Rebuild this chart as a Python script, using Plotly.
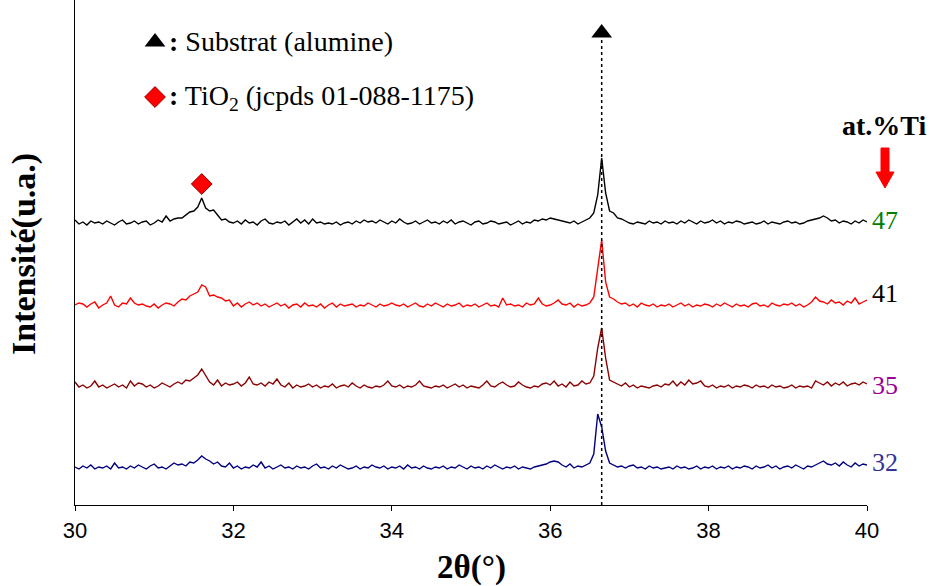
import numpy as np
import plotly.graph_objects as go

# 2-theta grid (degrees), step 0.05
two_theta_start = 30.0
two_theta_step = 0.05

# Intensities (a.u.) above each pattern's own baseline
i_47 = [3, -1, 1, -2, 2, 0, 1, -1, 2, 0,
        -2, 1, 3, -1, 0, 2, -1, 1, 2, -2,
        0, 3, 1, 7, 2, 4, 5, 5, 8, 11,
        12, 16, 25, 15, 12, 13, 8, 3, 4, 1,
        0, 2, -1, 3, 0, 1, -2, 2, 4, 0,
        -1, 1, 0, 2, -2, 1, 4, 0, 3, -1,
        4, 0, 1, -1, 0, -1, 1, -2, 0, 1,
        -1, 2, 0, 3, 1, 2, 0, 3, 1, -1,
        2, 0, 4, 1, -1, 0, 2, -1, 1, 3,
        0, 1, -1, 2, 0, 3, -1, 1, 2, 0,
        -2, 1, 2, -1, 0, 2, 1, -1, 0, 1,
        -2, 0, 2, -1, 1, 0, 3, 2, 4, 3,
        5, 4, 3, 2, 1, 0, 2, -1, 1, 3,
        5, 10, 28, 65, 30, 12, 10, 5, 4, 2,
        0, -1, 1, 0, -1, 2, 0, 1, -1, 2,
        0, 1, -1, 2, 0, 3, 1, -1, 2, 0,
        1, 3, 0, 2, -1, 1, 0, 2, 1, -1,
        0, 1, -1, 0, 2, -1, 1, 0, -1, 1,
        2, 0, 1, -1, 0, 2, 3, 4, 5, 7,
        5, 2, 3, 0, 2, 1, -1, 2, 0, 3,
        1]

i_41 = [2, 4, 3, 0, 3, 5, -1, 2, 4, 11,
        2, 0, 4, 3, 9, 4, 2, 3, 1, 0,
        3, -1, 2, 4, 3, 1, 5, 8, 7, 11,
        13, 15, 22, 20, 11, 12, 10, 9, 6, 7,
        1, 4, 0, 3, 5, 2, 4, 1, 3, 0,
        2, 4, 1, 3, -1, 2, 3, 0, 4, 1,
        2, 0, 3, -1, 2, 4, 0, 3, 1, 2,
        3, 0, 2, 1, 4, 2, 0, 3, 1, 2,
        4, 2, 1, 3, 0, 2, 4, 1, 0, 3,
        1, 4, 2, 0, 3, 1, 2, 4, 0, 2,
        1, 3, 0, 2, 4, 1, 2, 0, 9, 2,
        3, 1, 2, 0, 4, 2, 3, 9, 3, 1,
        2, 4, 7, 3, 2, 4, 0, 3, 1, 2,
        4, 10, 40, 67, 25, 10, 8, 5, 3, 4,
        1, 3, 0, 4, 2, 1, 3, 0, 2, 1,
        3, 0, 2, 4, 1, 3, 0, 2, 1, 3,
        2, 0, 3, 1, 4, 2, 0, 3, 1, 2,
        0, 3, 4, 1, 2, 0, 4, 2, 1, 3,
        2, 4, 1, 3, 0, 2, 5, 10, 6, 5,
        3, 7, 4, 5, 2, 6, 4, 9, 3, 5,
        7]

i_35 = [6, 1, 3, 0, 2, 7, 1, 3, 0, 2,
        4, 1, 3, 0, 7, 2, 5, 4, 1, 3,
        0, 2, 5, 3, 1, 4, 6, 4, 8, 7,
        10, 13, 19, 12, 6, 3, 8, 2, 5, 3,
        4, 6, 2, 5, 11, 4, 3, 5, 2, 6,
        4, 9, 3, 1, 5, 0, 3, 1, 2, 4,
        1, 3, 0, 2, 1, 4, 0, 2, 3, 1,
        5, 2, 0, 3, 1, 0, 2, 1, 3, 7,
        2, 1, 3, 0, 2, 1, 3, 7, 2, 1,
        0, 2, 1, 3, 0, 2, 4, 1, 3, 0,
        2, 1, 0, 3, 7, 2, 1, 4, 6, 3,
        1, 2, 6, 3, 1, 0, 2, 1, 4, 5,
        3, 7, 2, 4, 1, 6, 2, 3, 7, 4,
        5, 12, 40, 60, 30, 8, 6, 4, 2, 5,
        1, 3, 0, 2, 1, 0, 2, 3, 1, 4,
        3, 7, 2, 6, 3, 8, 4, 5, 7, 2,
        1, 3, 0, 2, 1, 3, 0, 2, 1, 3,
        2, 0, 3, 1, 2, 0, 3, 1, 2, 0,
        1, 3, 0, 2, 1, 2, 0, 7, 5, 3,
        6, 2, 5, 3, 6, 2, 4, 5, 3, 6,
        4]

i_32 = [2, 0, 3, 1, 4, 0, 2, 1, 3, 0,
        6, 1, 2, 0, 3, 1, 4, 2, 0, 3,
        5, 1, 2, 0, 3, 6, 4, 5, 3, 7,
        6, 9, 13, 10, 8, 5, 7, 3, 2, 6,
        1, 3, 0, 2, 1, 4, 2, 7, 1, 3,
        0, 2, 4, 1, 2, 0, 3, 1, 2, 0,
        3, 5, 1, 2, 0, 3, 1, 4, 2, 0,
        1, 3, 0, 2, 1, 4, 2, 1, 3, 0,
        2, 1, 3, 0, 4, 1, 2, 0, 3, 1,
        0, 2, 1, 3, 0, 2, 1, 4, 2, 0,
        3, 1, 2, 0, 3, 1, 4, 2, 0, 2,
        1, 3, 0, 2, 1, 0, 2, 3, 4, 5,
        7, 8, 7, 4, 2, 5, 1, 3, 2, 4,
        6, 15, 55, 42, 18, 6, 4, 2, 3, 1,
        3, 4, 1, 2, 0, 3, 1, 2, 0, 1,
        2, 0, 3, 1, 2, 0, 1, 3, 0, 2,
        1, 3, 0, 2, 1, 3, 0, 2, 1, 3,
        2, 0, 3, 1, 2, 4, 1, 3, 0, 2,
        3, 1, 4, 2, 0, 3, 2, 4, 6, 8,
        5, 4, 6, 3, 7, 4, 2, 6, 3, 5,
        4]

series_labels = ["47", "41", "35", "32"]
series_data = [i_47, i_41, i_35, i_32]
series_offsets = [282, 198, 117, 36]
line_colors = ["#000000", "#FF0000", "#8B0000", "#000080"]
label_colors = ["#008000", "#000000", "#990099", "#333399"]

substrate_peak = 36.65
tio2_peak = 31.6
x_ticks = [30, 32, 34, 36, 38, 40]

W, H = 932, 586
ML, MR, MT, MB = 75, 65, 0, 81
PW, PH = W - ML - MR, H - MT - MB
Y_MAX = 505

def px(x):   # pixel x -> paper
    return (x - ML) / PW

def py(y):   # pixel y -> paper
    return (H - MB - y) / PH

def dx(x):   # pixel x -> data x
    return 30 + (x - ML) / PW * 10

def dy(y):   # pixel y -> data y
    return Y_MAX * (H - MB - y) / PH

FONT = "Liberation Serif, Times New Roman, serif"
SANS = "Liberation Sans, Arial, sans-serif"

fig = go.Figure()
for vals, off, col in zip(series_data, series_offsets, line_colors):
    n = len(vals)
    x = two_theta_start + two_theta_step * np.arange(n)
    fig.add_trace(go.Scatter(x=x, y=np.array(vals) + off, mode="lines",
                             line=dict(color=col, width=1.4), hoverinfo="skip"))

# dotted substrate line
fig.add_shape(type="line", x0=substrate_peak, x1=substrate_peak, y0=0, y1=dy(40),
              line=dict(color="black", width=1.5, dash="dot"))

# substrate marker at top of line
fig.add_trace(go.Scatter(x=[substrate_peak], y=[dy(33)], mode="markers",
                         marker=dict(symbol="triangle-up", size=18, color="black")))
# TiO2 marker above the 47 pattern bump
fig.add_trace(go.Scatter(x=[tio2_peak], y=[dy(184)], mode="markers",
                         marker=dict(symbol="diamond", size=16, color="#FF0000",
                                     line=dict(color="#990000", width=1))))
# key markers
fig.add_trace(go.Scatter(x=[dx(155)], y=[dy(42)], mode="markers",
                         marker=dict(symbol="triangle-up", size=18, color="black")))
fig.add_trace(go.Scatter(x=[dx(155)], y=[dy(97)], mode="markers",
                         marker=dict(symbol="diamond", size=16, color="#FF0000",
                                     line=dict(color="#990000", width=1))))

ann = []
ann.append(dict(x=px(167), y=py(42), xref="paper", yref="paper", xanchor="left", yanchor="middle",
                text="<b>:</b> Substrat (alumine)", showarrow=False,
                font=dict(family=FONT, size=28, color="black")))
ann.append(dict(x=px(167), y=py(98), xref="paper", yref="paper", xanchor="left", yanchor="middle",
                text="<b>:</b> TiO<sub>2</sub> (jcpds 01-088-1175)", showarrow=False,
                font=dict(family=FONT, size=28, color="black")))
ann.append(dict(x=px(884), y=py(125), xref="paper", yref="paper", xanchor="center", yanchor="middle",
                text="<b>at.%Ti</b>", showarrow=False,
                font=dict(family=FONT, size=28, color="black")))
label_py = [220, 293, 385, 462]
for lab, col, ly in zip(series_labels, label_colors, label_py):
    ann.append(dict(x=px(870), y=py(ly), xref="paper", yref="paper", xanchor="left", yanchor="middle",
                    text=lab, showarrow=False, font=dict(family=FONT, size=26, color=col)))
ann.append(dict(x=px(24), y=py(254), xref="paper", yref="paper", xanchor="center", yanchor="middle",
                text="<b>Intensité(u.a.)</b>", textangle=-90, showarrow=False,
                font=dict(family=FONT, size=34, color="black")))
ann.append(dict(x=px(471), y=py(567), xref="paper", yref="paper", xanchor="center", yanchor="middle",
                text="<b>2θ(°)</b>", showarrow=False,
                font=dict(family=FONT, size=33, color="black")))

# red down arrow
ax0 = 885
arrow_path = (f"M {px(ax0-4)} {py(148)} L {px(ax0+4)} {py(148)} L {px(ax0+4)} {py(172)} "
              f"L {px(ax0+9)} {py(172)} L {px(ax0)} {py(188)} L {px(ax0-9)} {py(172)} "
              f"L {px(ax0-4)} {py(172)} Z")
fig.add_shape(type="path", path=arrow_path, xref="paper", yref="paper",
              fillcolor="#FF0000", line=dict(color="#FF0000", width=1))

fig.update_layout(
    width=W, height=H, margin=dict(l=ML, r=MR, t=MT, b=MB),
    paper_bgcolor="white", plot_bgcolor="white", showlegend=False,
    annotations=ann,
    xaxis=dict(range=[30, 40], tickvals=x_ticks, ticktext=[str(t) for t in x_ticks],
               showgrid=False, zeroline=False, showline=True, linecolor="black", linewidth=1.2,
               ticks="outside", ticklen=5, tickcolor="black",
               tickfont=dict(family=SANS, size=22, color="black")),
    yaxis=dict(range=[0, Y_MAX], showticklabels=False, showgrid=False, zeroline=False,
               showline=True, linecolor="black", linewidth=1.2, ticks=""),
)
fig.write_html("out.html", config={"displayModeBar": False},
               post_script="document.body.style.margin='0px';document.body.style.overflow='hidden';")
